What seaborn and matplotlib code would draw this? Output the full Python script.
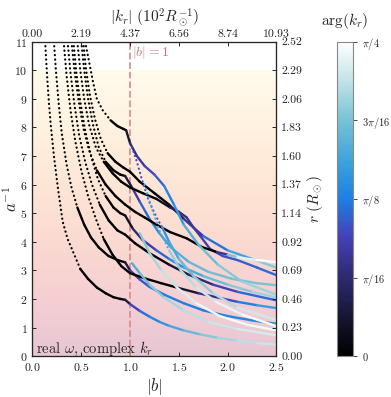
import numpy as np
import matplotlib.pyplot as plt
import seaborn as sns
from matplotlib.collections import LineCollection
from matplotlib.colors import LinearSegmentedColormap, Normalize
from matplotlib.cm import ScalarMappable

# each curve: |b|, a^-1, arg(k_r) in units of pi/16
k1_b = [0.13, 0.15, 0.17, 0.19, 0.22, 0.26, 0.31, 0.36, 0.41, 0.49, 0.57, 0.66, 0.75, 0.83, 0.90, 0.95,
        1.00, 1.10, 1.20, 1.30, 1.40, 1.55, 1.72, 1.90, 2.10, 2.30, 2.50]
k1_a = [11.0, 9.8, 8.8, 8.0, 7.0, 5.9, 4.7, 4.1, 3.7, 3.05, 2.7, 2.4, 2.2, 2.06, 2.0, 1.97,
        1.82, 1.58, 1.38, 1.2, 1.06, 0.9, 0.76, 0.64, 0.54, 0.46, 0.40]
k1_c = [0] * 16 + [1.3, 1.7, 2.0, 2.2, 2.4, 2.7, 3.0, 3.2, 3.4, 3.5, 3.6]

k2_b = [0.22, 0.24, 0.27, 0.30, 0.35, 0.40, 0.46, 0.53, 0.60, 0.68, 0.78, 0.88, 0.95,
        1.00, 1.10, 1.20, 1.35, 1.55, 1.75, 2.00, 2.25, 2.50]
k2_a = [11.0, 10.0, 8.8, 7.8, 6.7, 5.9, 5.2, 4.6, 4.15, 3.8, 3.5, 3.35, 3.28,
        3.0, 2.68, 2.42, 2.15, 1.85, 1.6, 1.4, 1.25, 1.13]
k2_c = [0] * 13 + [1.3, 1.6, 1.8, 2.0, 2.0, 2.0, 2.1, 2.1, 2.2]

n1_b = [0.32, 0.35, 0.39, 0.44, 0.50, 0.57, 0.65, 0.73, 0.82, 0.91, 1.00, 1.15, 1.32, 1.50,
        1.70, 1.90, 2.10, 2.30, 2.50]
n1_a = [11.0, 9.8, 8.6, 7.5, 6.5, 5.6, 4.8, 4.1, 3.55, 3.15, 2.9, 2.72, 2.55, 2.38,
        2.2, 2.05, 1.9, 1.78, 1.68]
n1_c = [0] * 14 + [1.0, 1.4, 1.8, 2.2, 2.6]

m1_b = [0.36, 0.39, 0.43, 0.48, 0.54, 0.61, 0.69, 0.78, 0.87, 0.95,
        1.05, 1.20, 1.40, 1.60, 1.85, 2.10, 2.50]
m1_a = [11.0, 9.9, 8.8, 7.7, 6.8, 6.0, 5.3, 4.75, 4.4, 4.25,
        3.95, 3.6, 3.2, 2.85, 2.5, 2.25, 1.95]
m1_c = [0] * 12 + [0.3, 0.8, 1.3, 1.7, 2.0]

k3_b = [0.42, 0.45, 0.49, 0.54, 0.60, 0.67, 0.75, 0.83, 0.90, 0.95,
        1.03, 1.13, 1.27, 1.40, 1.55, 1.75, 2.00, 2.25, 2.50]
k3_a = [11.0, 9.9, 8.9, 7.9, 7.0, 6.2, 5.6, 5.2, 5.0, 4.92,
        4.45, 4.06, 3.7, 3.4, 3.1, 2.8, 2.5, 2.25, 2.05]
k3_c = [0] * 10 + [0.8, 1.2, 1.6, 2.0, 2.4, 2.8, 3.0, 3.2, 3.3]

k4_b = [0.50, 0.53, 0.57, 0.62, 0.68, 0.75, 0.83, 0.90, 0.95,
        1.02, 1.10, 1.20, 1.30, 1.42, 1.60, 1.80, 2.05, 2.30, 2.50]
k4_a = [11.0, 10.0, 9.0, 8.1, 7.3, 6.8, 6.5, 6.35, 6.3,
        5.9, 5.4, 4.8, 4.3, 3.8, 3.3, 2.95, 2.7, 2.55, 2.48]
k4_c = [0] * 9 + [1.2, 1.6, 2.0, 2.3, 2.6, 2.8, 2.9, 3.0, 3.0, 3.0]

m2_b = [0.52, 0.55, 0.59, 0.64, 0.70, 0.77, 0.85, 0.93, 1.00, 1.10, 1.25, 1.40,
        1.55, 1.75, 2.00, 2.25, 2.50]
m2_a = [11.0, 10.0, 9.1, 8.3, 7.6, 7.1, 6.8, 6.6, 6.45, 6.1, 5.7, 5.3,
        4.8, 4.2, 3.7, 3.4, 3.1]
m2_c = [0] * 12 + [1.0, 1.6, 2.2, 2.8, 3.4]

n2_b = [0.46, 0.49, 0.53, 0.58, 0.65, 0.73, 0.82, 0.91, 1.00, 1.13, 1.27, 1.41, 1.50, 1.58,
        1.65, 1.72, 1.82, 1.95, 2.10, 2.30, 2.50]
n2_a = [11.0, 10.0, 9.0, 8.1, 7.3, 6.8, 6.4, 6.1, 5.9, 5.7, 5.5, 5.2, 5.05, 4.85,
        4.5, 4.2, 3.75, 3.5, 3.36, 3.1, 2.83]
n2_c = [0] * 11 + [0.6, 1.0, 1.2, 1.3, 1.4, 1.5, 1.6, 1.7, 1.8, 1.9]

n3_b = [0.40, 0.43, 0.47, 0.52, 0.58, 0.66, 0.75, 0.85, 0.95, 1.05, 1.15, 1.27, 1.41, 1.58,
        1.74, 1.89, 2.00, 2.10, 2.30, 2.50]
n3_a = [11.0, 10.0, 9.0, 8.0, 7.2, 6.5, 6.0, 5.6, 5.3, 5.05, 4.85, 4.6, 4.34, 4.12,
        3.81, 3.64, 3.55, 3.46, 3.36, 3.29]
n3_c = [0] * 16 + [2.5, 3.6, 3.9, 4.0]

k5_b = [0.54, 0.58, 0.62, 0.66, 0.72, 0.80, 0.87, 0.93, 0.96,
        1.00, 1.07, 1.15, 1.25, 1.35, 1.45, 1.55, 1.70, 1.90, 2.15, 2.50]
k5_a = [11.0, 10.3, 9.6, 9.0, 8.6, 8.25, 8.05, 7.95, 7.9,
        7.45, 7.0, 6.65, 6.35, 5.95, 5.3, 4.6, 3.9, 3.2, 2.6, 2.15]
k5_c = [0] * 9 + [1.0, 1.2, 1.4, 1.6, 1.9, 2.2, 2.5, 2.8, 3.0, 3.2, 3.3]

d1_b = [1.02, 1.07, 1.12, 1.19, 1.27, 1.33, 1.40, 1.50, 1.65, 1.85, 2.10, 2.50]
d1_a = [7.3, 6.8, 6.2, 5.45, 4.86, 4.5, 4.0, 3.4, 2.8, 2.2, 1.7, 1.26]
d1_c = [1.6, 1.8, 2.0, 2.0, 2.1, 2.2, 2.4, 2.7, 3.0, 3.3, 3.5, 3.7]

d2_b = [1.15, 1.22, 1.30, 1.40, 1.52, 1.68, 1.88, 2.15, 2.50]
d2_a = [6.0, 5.2, 4.4, 3.7, 3.0, 2.4, 1.9, 1.45, 1.05]
d2_c = [2.6, 2.8, 3.0, 3.1, 3.3, 3.5, 3.7, 3.9, 4.0]

l1_b = [1.02, 1.10, 1.20, 1.35, 1.55, 1.80, 2.10, 2.50]
l1_a = [3.25, 2.9, 2.5, 2.05, 1.6, 1.2, 0.95, 0.73]
l1_c = [2.5, 2.8, 3.0, 3.2, 3.4, 3.5, 3.6, 3.7]

l2_b = [1.10, 1.20, 1.32, 1.48, 1.68, 1.92, 2.20, 2.50]
l2_a = [4.3, 3.6, 3.0, 2.4, 1.85, 1.4, 1.1, 0.9]
l2_c = [3.0, 3.2, 3.4, 3.6, 3.8, 3.9, 3.9, 3.9]

curves = [(k1_b, k1_a, k1_c, 9), (k2_b, k2_a, k2_c, 6), (n1_b, n1_a, n1_c, 7),
          (m1_b, m1_a, m1_c, 6), (k3_b, k3_a, k3_c, 6), (k4_b, k4_a, k4_c, 5),
          (m2_b, m2_a, m2_c, 5), (n2_b, n2_a, n2_c, 5), (n3_b, n3_a, n3_c, 5),
          (k5_b, k5_a, k5_c, 5), (d1_b, d1_a, d1_c, 5), (d2_b, d2_a, d2_c, 3),
          (l1_b, l1_a, l1_c, 0), (l2_b, l2_a, l2_c, 0)]

b_ticks = [0.0, 0.5, 1.0, 1.5, 2.0, 2.5]
kr_labels = ["0.00", "2.19", "4.37", "6.56", "8.74", "10.93"]
a_ticks = list(range(12))
r_labels = ["0.00", "0.23", "0.46", "0.69", "0.92", "1.14", "1.37", "1.60", "1.83", "2.06", "2.29", "2.52"]
cb_ticks = [0, 1, 2, 3, 4]
cb_labels = ["$0$", r"$\pi/16$", r"$\pi/8$", r"$3\pi/16$", r"$\pi/4$"]

sns.set_style("ticks")
plt.rcParams.update({
    "font.family": "serif", "font.serif": ["cmr10", "DejaVu Serif"],
    "mathtext.fontset": "cm", "axes.formatter.use_mathtext": True,
    "xtick.direction": "in", "ytick.direction": "in",
})

cmap = LinearSegmentedColormap.from_list("freeze", [
    (0.0, "#000000"), (0.12, "#161530"), (0.25, "#2d2a6e"), (0.38, "#4541b8"),
    (0.5, "#1e7fe2"), (0.62, "#3ea2dc"), (0.75, "#77c2d4"), (0.88, "#c4e3e7"), (1.0, "#ffffff")])
norm = Normalize(0, 4)
bg = LinearSegmentedColormap.from_list("bg", ["#e7c6d3", "#f5cfd3", "#fbdad1", "#fee6d6", "#fff2e0", "#fffbec"])

fig = plt.figure(figsize=(3.91, 3.97), dpi=100)
ax = fig.add_axes([0.083, 0.103, 0.624, 0.792])
ax.imshow(np.linspace(0, 1, 256)[:, None], extent=[0, 2.5, 0, 10], origin="lower",
          aspect="auto", cmap=bg, zorder=0)
ax.axvline(1.0, color="#d4888a", ls="--", lw=1.3, alpha=0.9, zorder=1)

for b, a, c, nd in curves:
    b, a, c = np.array(b), np.array(a), np.array(c, dtype=float)
    if nd > 0:
        sns.lineplot(x=b[:nd + 1], y=a[:nd + 1], ax=ax, sort=False, estimator=None,
                     color=cmap(norm(c[0])), lw=1.6, linestyle=(0, (0.1, 1.9)),
                     dash_capstyle="round", zorder=3)
    pts = np.column_stack([b[nd:], a[nd:]])
    segs = np.stack([pts[:-1], pts[1:]], axis=1)
    cols = cmap(norm((c[nd:-1] + c[nd + 1:]) / 2))
    ax.add_collection(LineCollection(segs, colors=cols, lw=1.7, capstyle="round",
                                     joinstyle="round", zorder=3))

ax.set_xlim(0, 2.5)
ax.set_ylim(0, 11)
ax.set_xticks(b_ticks)
ax.set_yticks(a_ticks)
ax.tick_params(labelsize=8.5, length=3, width=0.7, labelcolor="#222222")
ax.set_xlabel("$|b|$", fontsize=12, labelpad=2)
ax.set_ylabel("$a^{-1}$", fontsize=12)
ax.yaxis.set_label_coords(-0.05, 0.5)
ax.text(0.04, 0.12, r"real $\omega$, complex $k_r$", fontsize=10.5, zorder=5)
ax.text(1.02, 10.93, "$|b| = 1$", fontsize=10, color="#c87a7c", va="top", zorder=5)

top = ax.twiny()
top.set_xlim(0, 2.5)
top.set_xticks(b_ticks)
top.set_xticklabels(kr_labels)
top.tick_params(labelsize=8.5, length=3, width=0.7, direction="in", labelcolor="#222222", pad=2)
top.set_xlabel(r"$|k_r|\ (10^2R_\odot^{-1})$", fontsize=11, labelpad=6)

right = ax.twinx()
right.set_ylim(0, 11)
right.set_yticks(a_ticks)
right.set_yticklabels(r_labels)
right.tick_params(labelsize=8.5, length=3, width=0.7, direction="in", labelcolor="#222222")
right.set_ylabel(r"$r\ (R_\odot)$", fontsize=11, labelpad=2)

cax = fig.add_axes([0.862, 0.103, 0.041, 0.792])
cb = fig.colorbar(ScalarMappable(norm=norm, cmap=cmap), cax=cax)
cb.set_ticks(cb_ticks)
cb.set_ticklabels(cb_labels)
cb.outline.set_edgecolor("#888888")
cb.outline.set_linewidth(0.8)
cax.tick_params(labelsize=7.5, length=3, width=0.6, direction="out", labelcolor="#222222")
cax.set_title(r"$\arg(k_r)$", fontsize=11, pad=12)

fig.savefig("out.png", dpi=100)
